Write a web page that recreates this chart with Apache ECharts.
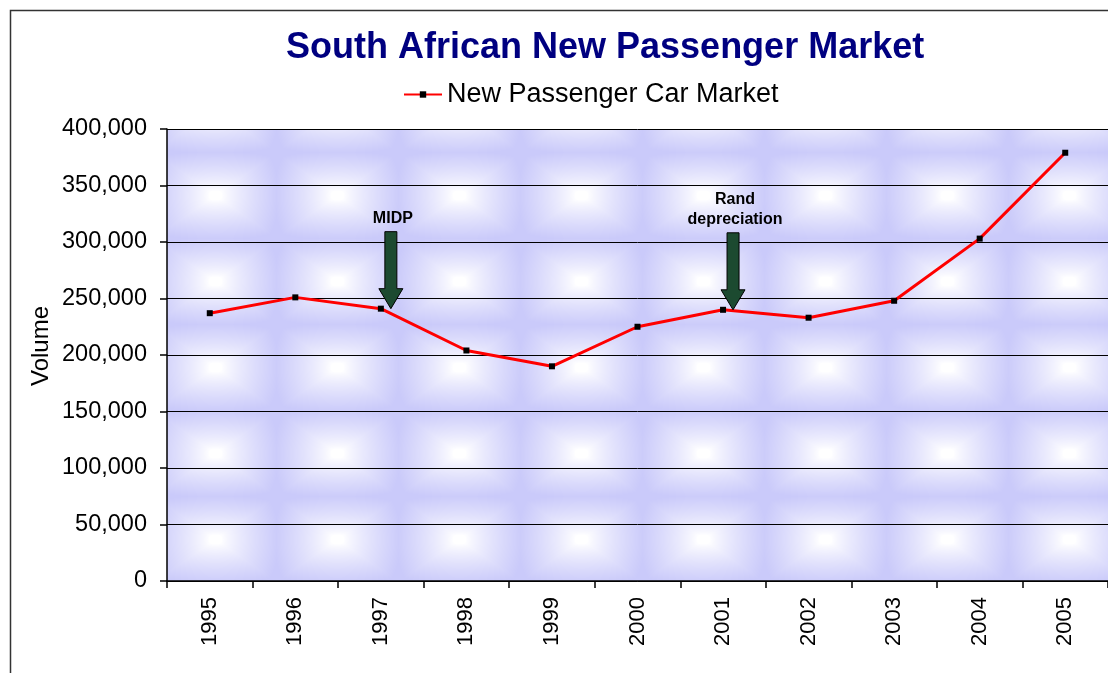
<!DOCTYPE html>
<html>
<head>
<meta charset="utf-8">
<script src="https://cdn.jsdelivr.net/npm/echarts@6/dist/echarts.min.js"></script>
<style>
  html, body { margin: 0; padding: 0; background: #fff; }
  #chart { width: 1108px; height: 673px; }
</style>
</head>
<body>
<div id="chart"></div>
<script>
// data
var years = ['1995', '1996', '1997', '1998', '1999', '2000', '2001', '2002', '2003', '2004', '2005'];
var volumes = [237000, 251000, 241000, 204000, 190000, 225000, 240000, 233000, 248000, 303000, 379000];
var yTicks = { min: 0, max: 400000, interval: 50000 };
var notes = [
    { year: '1997', value: 241000, text: 'MIDP' },
    { year: '2001', value: 240000, text: 'Rand\ndepreciation' }
];

// pillow-like texture tile for the plot area
function makeTile() {
    var w = 122, h = 86;
    var cv = document.createElement('canvas');
    cv.width = w; cv.height = h;
    var ctx = cv.getContext('2d');
    var img = ctx.createImageData(w, h);
    var ox = 215 % w, oy = 195 % h;
    for (var y = 0; y < h; y++) {
        for (var x = 0; x < w; x++) {
            var dx = x - ox; dx = ((dx % w) + w + w / 2) % w - w / 2;
            var dy = y - oy; dy = ((dy % h) + h + h / 2) % h - h / 2;
            var ax = Math.abs(dx) / (w / 2), ay = Math.abs(dy) / (h / 2);
            var d = Math.max(ax, ay) * 0.6 + Math.sqrt(ax * ax + ay * ay) * 0.4;
            var t = Math.min(1, Math.max(0, (d - 0.1) / 0.95));
            t = Math.pow(t, 0.8);
            var i = (y * w + x) * 4;
            img.data[i] = Math.round(255 + (202 - 255) * t);
            img.data[i + 1] = Math.round(255 + (202 - 255) * t);
            img.data[i + 2] = Math.round(255 + (250 - 255) * t);
            img.data[i + 3] = 255;
        }
    }
    ctx.putImageData(img, 0, 0);
    return cv;
}

var chart = echarts.init(document.getElementById('chart'), null, { renderer: 'canvas' });
var font = '"Liberation Sans", Arial, sans-serif';

chart.setOption({
    animation: false,
    textStyle: { fontFamily: font },
    title: {
        text: 'South African New Passenger Market',
        left: 281, top: 25,
        textStyle: { color: '#000080', fontSize: 36, fontWeight: 'bold', fontFamily: font }
    },
    legend: {
        top: 76, left: 398,
        itemWidth: 38, itemHeight: 8, itemGap: 8,
        textStyle: { fontSize: 27, color: '#000', fontFamily: font },
        data: ['New Passenger Car Market']
    },
    grid: {
        left: 167, top: 129, right: 0, bottom: 92,
        show: true, borderWidth: 0,
        backgroundColor: { image: makeTile(), repeat: 'repeat' }
    },
    xAxis: {
        type: 'category',
        data: years,
        boundaryGap: true,
        axisLine: { lineStyle: { color: '#000', width: 1.5 } },
        axisTick: { show: true, length: 7, lineStyle: { color: '#000', width: 1.5 } },
        axisLabel: { rotate: 90, margin: 16, fontSize: 22, color: '#000', fontFamily: font },
        splitLine: { show: false }
    },
    yAxis: {
        type: 'value',
        min: yTicks.min, max: yTicks.max, interval: yTicks.interval,
        axisLine: { show: true, lineStyle: { color: '#000', width: 1.5 } },
        axisTick: { show: true, length: 7, lineStyle: { color: '#000', width: 1.5 } },
        axisLabel: {
            margin: 20, fontSize: 23.5, color: '#000', fontFamily: font,
            formatter: function(v) { return v.toLocaleString('en-US'); }
        },
        splitLine: { show: true, lineStyle: { color: '#000', width: 1 } }
    },
    series: [{
        name: 'New Passenger Car Market',
        type: 'line',
        data: volumes,
        symbol: 'rect',
        symbolSize: 6,
        itemStyle: { color: '#000' },
        lineStyle: { color: '#ff0000', width: 3 },
        z: 5
    }]
});

// annotations: outer frame, axis title, arrows pointing at the points
var gfx = [{
    type: 'rect', silent: true, z: -10,
    shape: { x: 10.5, y: 10.5, width: 1200, height: 1000 },
    style: { fill: null, stroke: '#333', lineWidth: 1.5 }
}, {
    type: 'text', silent: true,
    x: 41, y: 346, rotation: Math.PI / 2,
    style: { text: 'Volume', fill: '#000', font: '24px ' + font, align: 'center', verticalAlign: 'middle' }
}];
notes.forEach(function(n) {
    var p = chart.convertToPixel({ gridIndex: 0 }, [n.year, n.value]);
    var tx = p[0] + 10, ty = p[1];
    gfx.push({
        type: 'polygon', z: 10,
        shape: { points: [
            [tx - 6, ty - 77], [tx + 6, ty - 77], [tx + 6, ty - 20], [tx + 12, ty - 20],
            [tx, ty], [tx - 12, ty - 20], [tx - 6, ty - 20]
        ] },
        style: { fill: '#1c4a30', stroke: '#000', lineWidth: 1 }
    });
    gfx.push({
        type: 'text', z: 10,
        x: tx + 2, y: ty - 80,
        style: {
            text: n.text, fill: '#000', font: 'bold 16px ' + font,
            align: 'center', verticalAlign: 'bottom', lineHeight: 20
        }
    });
});
chart.setOption({ graphic: gfx });
</script>
</body>
</html>
